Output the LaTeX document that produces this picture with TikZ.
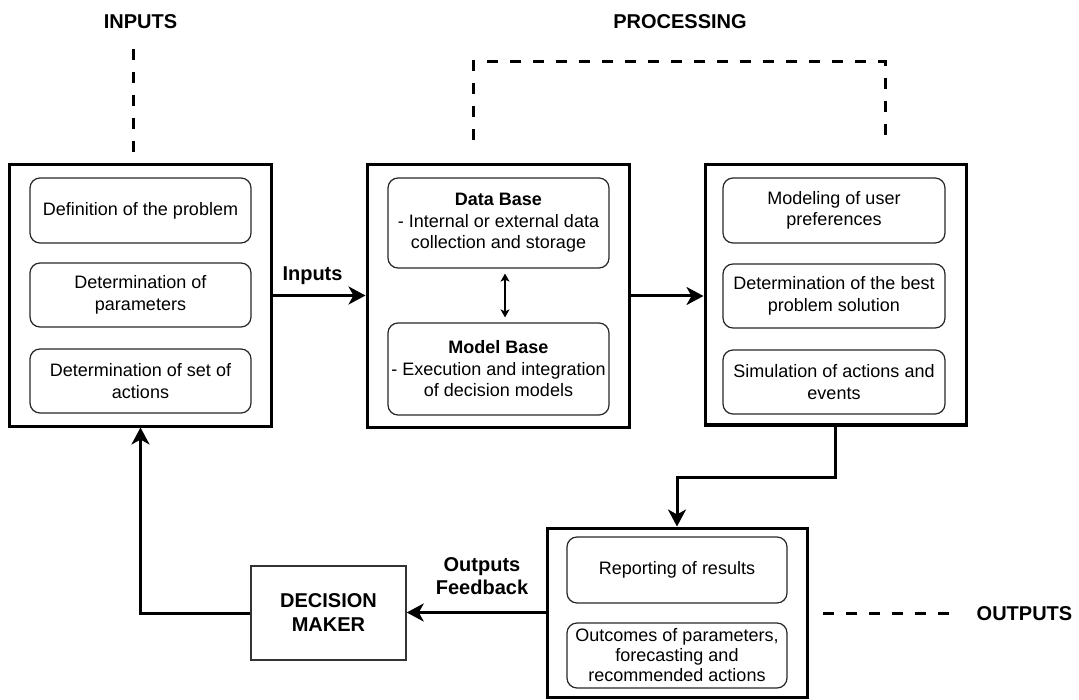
\documentclass[tikz,border=0pt]{standalone}
\usepackage{fontspec}
\setmainfont{Liberation Sans}
\usetikzlibrary{arrows.meta}

\begin{document}
\begin{tikzpicture}[x=1pt,y=-1pt,
  panel/.style={draw=black, line width=3pt, inner sep=0pt},
  item/.style={draw=black!85, line width=1.2pt, rounded corners=10pt,
    align=center, inner sep=0pt, minimum width=221pt,
    font=\fontsize{18}{21.5}\selectfont},
  title/.style={inner sep=0pt, font=\fontsize{20}{24}\selectfont\bfseries},
  flow/.style={line width=3pt, -{Stealth[length=17pt,width=18pt,inset=5pt]}},
  region/.style={line width=3pt, dash pattern=on 11pt off 12pt},
  small tip/.style={line width=1.3pt,
    {Stealth[length=8pt,width=9pt,inset=2pt]}-{Stealth[length=8pt,width=9pt,inset=2pt]}}
]
\useasboundingbox (0,0) rectangle (1079,700);

% section headings
\node[title, anchor=base] (tin) at (140.5,29) {INPUTS};
\node[title, anchor=base] (tproc) at (680,29) {PROCESSING};
\node[title, anchor=base] (tout) at (1024.5,620) {OUTPUTS};

% dashed brackets under the headings
\coordinate (inA) at (133,49);
\coordinate (inB) at (133,153);
\draw[region] (inA) -- (inB);
\coordinate (pA) at (473,140);
\coordinate (pB) at (473,62);
\coordinate (pC) at (885,62);
\coordinate (pD) at (885,140);
\draw[region] (pA) -- (pB) -- (pC) -- (pD);
\coordinate (oA) at (823,613);
\coordinate (oB) at (951,613);
\draw[region] (oA) -- (oB);

% input panel
\node[panel, minimum width=262pt, minimum height=261pt] (L) at (140.5,295.5) {};
\node[item, minimum height=65pt] (L1) at (140.5,210.5) {Definition of the problem};
\node[item, minimum height=64pt] (L2) at (140.5,295) {Determination of\\parameters};
\node[item, minimum height=64pt] (L3) at (140.5,381) {Determination of set of\\actions};

% data and model base panel
\node[panel, minimum width=262pt, minimum height=262pt] (M) at (498,296) {};
\node[item, minimum height=90pt] (DB) at (498.5,223)
  {\textbf{Data Base}\\- Internal or external data\\collection and storage};
\node[item, minimum height=92pt] (MB) at (498.5,369)
  {\textbf{Model Base}\\- Execution and integration\\of decision models};

% processing panel
\node[panel, minimum width=261pt, minimum height=260pt] (R) at (835.5,295) {};
\node[item, minimum width=222pt, minimum height=65pt] (R1) at (834,210.5) {Modeling of user\\preferences};
\node[item, minimum width=222pt, minimum height=64pt] (R2) at (834,296) {Determination of the best\\problem solution};
\node[item, minimum width=222pt, minimum height=64pt] (R3) at (834,382) {Simulation of actions and\\events};

% output panel
\node[panel, minimum width=260pt, minimum height=169pt] (B) at (677,612.5) {};
\node[item, minimum width=220pt, minimum height=66pt] (B1) at (677,570) {Reporting of results};
\node[item, minimum width=220pt, minimum height=65pt, font=\fontsize{18}{20}\selectfont] (B2) at (677,655.5)
  {Outcomes of parameters,\\forecasting and\\recommended actions};

% decision maker
\node[draw=black!80, line width=1.5pt, minimum width=155pt, minimum height=94pt,
  align=center, inner sep=0pt, font=\fontsize{20}{24}\selectfont\bfseries] (DM) at (328.5,613) {DECISION\\MAKER};

% connectors
\draw[flow] (L.east) -- (L.east -| M.west);
\node[title, anchor=base] (inlbl) at (312.5,281) {Inputs};
\draw[flow] (M.east) -- (M.east -| R.west);
\draw[small tip, shorten >=5pt, shorten <=5pt] ([xshift=6.5pt]DB.south) -- ([xshift=6.5pt]MB.north);

\coordinate (bend) at (835.5,477);
\draw[flow] (R.south) -- (R.south |- bend) -| (B.north);
\draw[flow] (B.west) -- (B.west -| DM.east);
\node[title, align=center, font=\fontsize{20}{23}\selectfont\bfseries] (fb) at (482,576) {Outputs\\Feedback};
\draw[flow] (DM.west) -| (L.south);
\end{tikzpicture}
\end{document}
